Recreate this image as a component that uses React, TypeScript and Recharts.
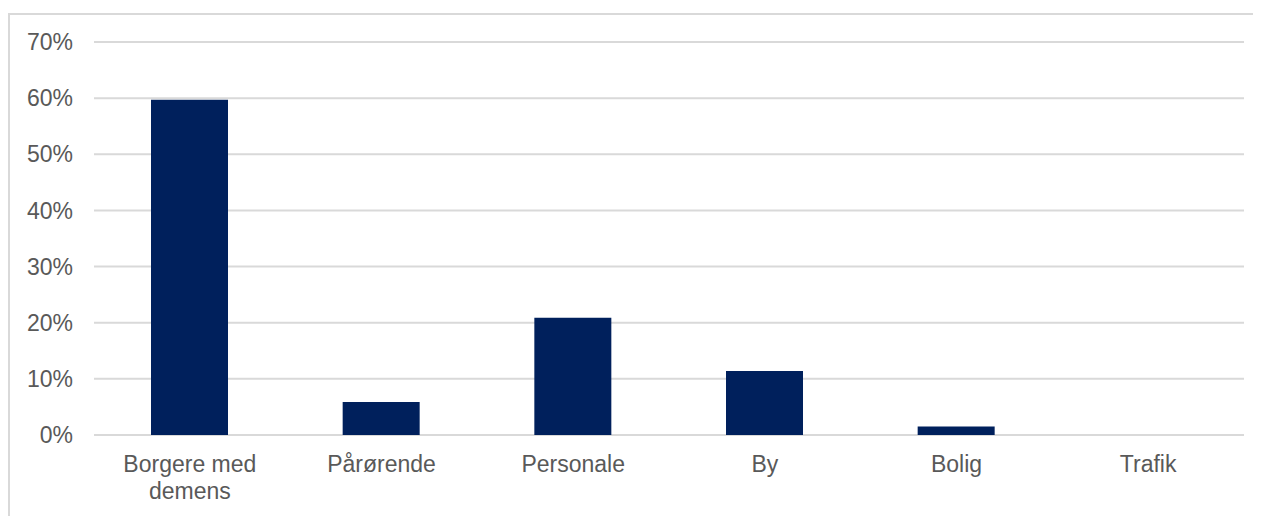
import React from 'react'
import { BarChart, Bar, XAxis, YAxis, CartesianGrid } from 'recharts'

const categories = ['Borgere med demens', 'Pårørende', 'Personale', 'By', 'Bolig', 'Trafik']
const shares = [0.597, 0.059, 0.209, 0.114, 0.015, 0]
const yTicks = [0, 0.1, 0.2, 0.3, 0.4, 0.5, 0.6, 0.7]

const FONT = '"Liberation Sans", Arial, Helvetica, sans-serif'
const TEXT_COLOR = '#595959'
const FONT_SIZE = 23

const chartData = categories.map((name, i) => ({ name, value: shares[i] }))

// rough greedy word wrap, ~0.55em per character
const wrapLabel = (label: string, maxWidth: number): string[] => {
  const words = label.split(' ')
  const lines: string[] = []
  let current = ''
  words.forEach(w => {
    const next = current ? `${current} ${w}` : w
    if (next.length * FONT_SIZE * 0.55 > maxWidth && current) {
      lines.push(current)
      current = w
    } else {
      current = next
    }
  })
  if (current) lines.push(current)
  return lines
}

const CategoryTick = (props: any) => {
  const { x, y, payload } = props
  const lines = wrapLabel(payload.value, 150)
  return (
    <text
      x={x}
      y={y + 29}
      textAnchor="middle"
      fill={TEXT_COLOR}
      fontSize={FONT_SIZE}
      fontFamily={FONT}
    >
      {lines.map((line, i) => (
        <tspan key={i} x={x} dy={i === 0 ? 0 : 26.5}>
          {line}
        </tspan>
      ))}
    </text>
  )
}

const App: React.FC = () => {
  return (
    <div
      style={{
        marginTop: 5,
        width: 1251,
        height: 501,
        borderTop: '2px solid #d9d9d9',
        borderLeft: '2px solid #d9d9d9',
        background: '#fff',
      }}
    >
      <BarChart
        width={1251}
        height={501}
        data={chartData}
        margin={{ top: 27, right: 17, left: 24, bottom: 21 }}
      >
        <CartesianGrid vertical={false} stroke="#d9d9d9" strokeWidth={2} />
        <XAxis
          dataKey="name"
          axisLine={false}
          tickLine={false}
          height={60}
          interval={0}
          tick={<CategoryTick />}
        />
        <YAxis
          domain={[0, 0.7]}
          ticks={yTicks}
          axisLine={false}
          tickLine={false}
          width={60}
          tickMargin={15}
          tickFormatter={(v: number) => `${Math.round(v * 100)}%`}
          tick={{ fill: TEXT_COLOR, fontSize: FONT_SIZE, fontFamily: FONT }}
        />
        <Bar dataKey="value" fill="#00205c" barSize={77} isAnimationActive={false} />
      </BarChart>
    </div>
  )
}

export default App
